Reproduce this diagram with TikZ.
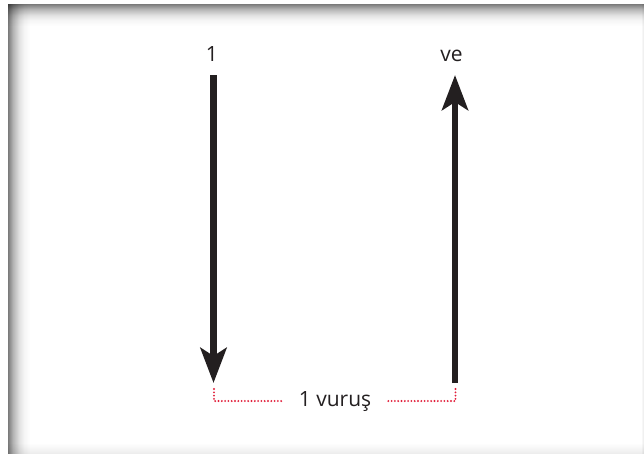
\documentclass[tikz,border=0pt]{standalone}
\usepackage{fontspec}
\setmainfont{Open Sans}
\usetikzlibrary{arrows.meta}
\definecolor{beatred}{RGB}{226,30,58}
\definecolor{arrowblack}{RGB}{35,31,32}
\pgfdeclarehorizontalshading{leftband}{100bp}{color(0bp)=(black!52); color(25bp)=(black!52); color(36bp)=(black!30); color(50bp)=(black!12); color(61bp)=(black!4); color(75bp)=(white); color(100bp)=(white)}
\pgfdeclareverticalshading{topband}{100bp}{color(0bp)=(white); color(25bp)=(white); color(39bp)=(black!4); color(50bp)=(black!12); color(64bp)=(black!30); color(75bp)=(black!52); color(100bp)=(black!52)}
\tikzset{
  bigarrow/.style={line width=6.8pt, draw=arrowblack, -{Stealth[length=35pt,width=26pt,inset=8pt]}},
  lbl/.style={font=\fontsize{21}{24}\selectfont, inner sep=0pt, text=arrowblack, anchor=base},
  beatline/.style={draw=beatred, line width=2.1pt, line cap=round, dash pattern=on 0pt off 3.3pt}
}
\begin{document}
\begin{tikzpicture}[x=1pt,y=-1pt]
\useasboundingbox (0,0) rectangle (644,453);
\fill[white] (0,0) rectangle (644,453);
\begin{scope}[blend mode=multiply]
\shade[shading=topband] (8,4) rectangle (644,26);
\shade[shading=leftband] (8,4) rectangle (30,453);
\shade[top color=white, bottom color=black!7] (8,443) rectangle (644,453);
\shade[left color=white, right color=black!9] (641,4) rectangle (644,453);
\end{scope}
% arrows
\coordinate (a1top) at (213.5,75);
\coordinate (a1bot) at (213.5,383);
\coordinate (a2bot) at (455,383);
\coordinate (a2top) at (455,75);
\draw[bigarrow] (a1top) -- (a1bot);
\draw[bigarrow] (a2bot) -- (a2top);
% labels
\node[lbl] (l1) at (212,61.5) {1};
\node[lbl] (lve) at (451.5,61.5) {ve};
\node[lbl] (beat) at (335,406.5) {1 vuruş};
% bracket
\coordinate (bl1) at (214,389);
\coordinate (bl2) at (214,401);
\coordinate (bl3) at (282,401);
\coordinate (br1) at (455.5,389);
\coordinate (br2) at (455.5,401);
\coordinate (br3) at (387,401);
\draw[beatline] (bl1) -- (bl2) -- (bl3);
\draw[beatline] (br1) -- (br2) -- (br3);
\end{tikzpicture}
\end{document}
